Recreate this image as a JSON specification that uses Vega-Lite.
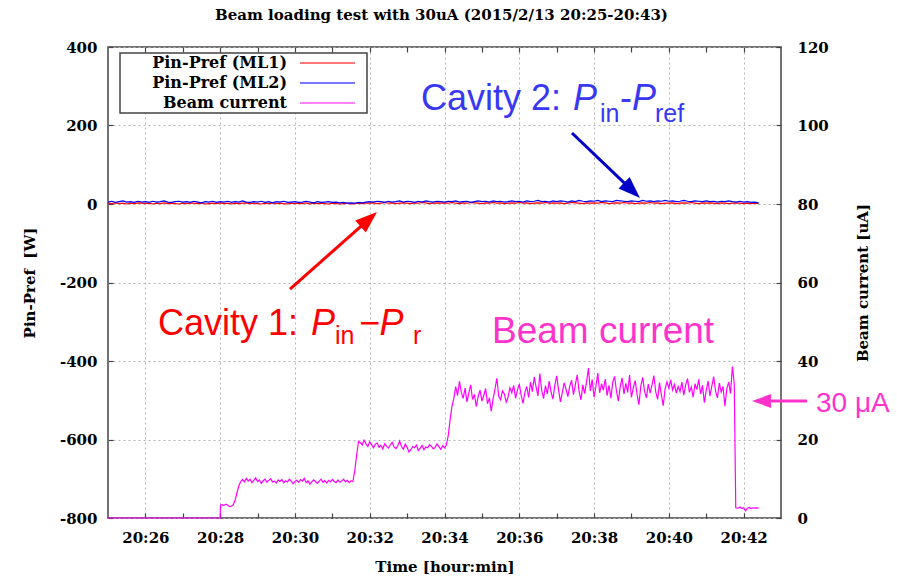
{
"$schema":"https://vega.github.io/schema/vega-lite/v6.json",
"width":673,"height":471,
"autosize":{"type":"none"},
"padding":{"left":108,"top":47,"right":116,"bottom":58},
"background":"white",
"title":{"text":"Beam loading test with 30uA (2015/2/13 20:25-20:43)","font":"DejaVu Serif","fontSize":15,"fontWeight":"bold","color":"#000","offset":17,"dx":-3},
"datasets":{
"ml":[
{"t":25.0,"ml1":2,"ml2":5},{"t":25.1,"ml1":1,"ml2":7},{"t":25.2,"ml1":3,"ml2":4},{"t":25.3,"ml1":1,"ml2":6},{"t":25.4,"ml1":2,"ml2":8},{"t":25.5,"ml1":0,"ml2":5},{"t":25.6,"ml1":2,"ml2":6},{"t":25.7,"ml1":1,"ml2":4},{"t":25.8,"ml1":3,"ml2":7},{"t":25.9,"ml1":2,"ml2":5},
{"t":26.0,"ml1":1,"ml2":6},{"t":26.1,"ml1":2,"ml2":4},{"t":26.2,"ml1":0,"ml2":7},{"t":26.3,"ml1":2,"ml2":5},{"t":26.4,"ml1":1,"ml2":6},{"t":26.5,"ml1":3,"ml2":8},{"t":26.6,"ml1":1,"ml2":5},{"t":26.7,"ml1":2,"ml2":4},{"t":26.8,"ml1":1,"ml2":6},{"t":26.9,"ml1":0,"ml2":7},
{"t":27.0,"ml1":2,"ml2":5},{"t":27.1,"ml1":1,"ml2":6},{"t":27.2,"ml1":3,"ml2":4},{"t":27.3,"ml1":2,"ml2":7},{"t":27.4,"ml1":1,"ml2":5},{"t":27.5,"ml1":2,"ml2":3},{"t":27.6,"ml1":0,"ml2":6},{"t":27.7,"ml1":1,"ml2":5},{"t":27.8,"ml1":2,"ml2":7},{"t":27.9,"ml1":1,"ml2":4},
{"t":28.0,"ml1":3,"ml2":6},{"t":28.1,"ml1":1,"ml2":5},{"t":28.2,"ml1":2,"ml2":7},{"t":28.3,"ml1":0,"ml2":4},{"t":28.4,"ml1":2,"ml2":6},{"t":28.5,"ml1":1,"ml2":5},{"t":28.6,"ml1":2,"ml2":8},{"t":28.7,"ml1":3,"ml2":5},{"t":28.8,"ml1":1,"ml2":4},{"t":28.9,"ml1":2,"ml2":6},
{"t":29.0,"ml1":1,"ml2":5},{"t":29.1,"ml1":0,"ml2":7},{"t":29.2,"ml1":2,"ml2":4},{"t":29.3,"ml1":1,"ml2":6},{"t":29.4,"ml1":3,"ml2":3},{"t":29.5,"ml1":1,"ml2":6},{"t":29.6,"ml1":2,"ml2":5},{"t":29.7,"ml1":1,"ml2":7},{"t":29.8,"ml1":0,"ml2":4},{"t":29.9,"ml1":2,"ml2":5},
{"t":30.0,"ml1":1,"ml2":6},{"t":30.1,"ml1":2,"ml2":4},{"t":30.2,"ml1":1,"ml2":5},{"t":30.3,"ml1":3,"ml2":7},{"t":30.4,"ml1":0,"ml2":5},{"t":30.5,"ml1":2,"ml2":3},{"t":30.6,"ml1":1,"ml2":6},{"t":30.7,"ml1":2,"ml2":4},{"t":30.8,"ml1":1,"ml2":5},{"t":30.9,"ml1":0,"ml2":6},
{"t":31.0,"ml1":2,"ml2":4},{"t":31.1,"ml1":1,"ml2":5},{"t":31.2,"ml1":0,"ml2":3},{"t":31.3,"ml1":1,"ml2":4},{"t":31.4,"ml1":2,"ml2":2},{"t":31.5,"ml1":0,"ml2":3},{"t":31.6,"ml1":1,"ml2":2},{"t":31.7,"ml1":2,"ml2":4},{"t":31.8,"ml1":1,"ml2":3},{"t":31.9,"ml1":3,"ml2":5},
{"t":32.0,"ml1":2,"ml2":6},{"t":32.1,"ml1":3,"ml2":5},{"t":32.2,"ml1":1,"ml2":7},{"t":32.3,"ml1":2,"ml2":6},{"t":32.4,"ml1":4,"ml2":4},{"t":32.5,"ml1":2,"ml2":7},{"t":32.6,"ml1":3,"ml2":5},{"t":32.7,"ml1":1,"ml2":6},{"t":32.8,"ml1":2,"ml2":8},{"t":32.9,"ml1":3,"ml2":5},
{"t":33.0,"ml1":2,"ml2":7},{"t":33.1,"ml1":1,"ml2":6},{"t":33.2,"ml1":3,"ml2":4},{"t":33.3,"ml1":2,"ml2":7},{"t":33.4,"ml1":4,"ml2":5},{"t":33.5,"ml1":3,"ml2":8},{"t":33.6,"ml1":1,"ml2":6},{"t":33.7,"ml1":2,"ml2":5},{"t":33.8,"ml1":3,"ml2":7},{"t":33.9,"ml1":2,"ml2":6},
{"t":34.0,"ml1":3,"ml2":5},{"t":34.1,"ml1":2,"ml2":7},{"t":34.2,"ml1":4,"ml2":6},{"t":34.3,"ml1":2,"ml2":8},{"t":34.4,"ml1":1,"ml2":5},{"t":34.5,"ml1":3,"ml2":6},{"t":34.6,"ml1":2,"ml2":7},{"t":34.7,"ml1":4,"ml2":4},{"t":34.8,"ml1":3,"ml2":6},{"t":34.9,"ml1":2,"ml2":8},
{"t":35.0,"ml1":1,"ml2":6},{"t":35.1,"ml1":3,"ml2":7},{"t":35.2,"ml1":2,"ml2":5},{"t":35.3,"ml1":4,"ml2":8},{"t":35.4,"ml1":2,"ml2":6},{"t":35.5,"ml1":3,"ml2":7},{"t":35.6,"ml1":1,"ml2":5},{"t":35.7,"ml1":2,"ml2":6},{"t":35.8,"ml1":3,"ml2":8},{"t":35.9,"ml1":2,"ml2":6},
{"t":36.0,"ml1":4,"ml2":7},{"t":36.1,"ml1":2,"ml2":5},{"t":36.2,"ml1":3,"ml2":8},{"t":36.3,"ml1":1,"ml2":6},{"t":36.4,"ml1":2,"ml2":7},{"t":36.5,"ml1":3,"ml2":9},{"t":36.6,"ml1":2,"ml2":6},{"t":36.7,"ml1":4,"ml2":7},{"t":36.8,"ml1":2,"ml2":5},{"t":36.9,"ml1":3,"ml2":8},
{"t":37.0,"ml1":2,"ml2":6},{"t":37.1,"ml1":3,"ml2":8},{"t":37.2,"ml1":1,"ml2":7},{"t":37.3,"ml1":2,"ml2":5},{"t":37.4,"ml1":4,"ml2":8},{"t":37.5,"ml1":3,"ml2":6},{"t":37.6,"ml1":2,"ml2":9},{"t":37.7,"ml1":1,"ml2":7},{"t":37.8,"ml1":3,"ml2":6},{"t":37.9,"ml1":2,"ml2":8},
{"t":38.0,"ml1":3,"ml2":7},{"t":38.1,"ml1":2,"ml2":9},{"t":38.2,"ml1":4,"ml2":6},{"t":38.3,"ml1":3,"ml2":8},{"t":38.4,"ml1":1,"ml2":7},{"t":38.5,"ml1":2,"ml2":6},{"t":38.6,"ml1":3,"ml2":9},{"t":38.7,"ml1":2,"ml2":8},{"t":38.8,"ml1":4,"ml2":7},{"t":38.9,"ml1":2,"ml2":6},
{"t":39.0,"ml1":3,"ml2":8},{"t":39.1,"ml1":1,"ml2":7},{"t":39.2,"ml1":2,"ml2":6},{"t":39.3,"ml1":3,"ml2":9},{"t":39.4,"ml1":2,"ml2":7},{"t":39.5,"ml1":4,"ml2":8},{"t":39.6,"ml1":2,"ml2":6},{"t":39.7,"ml1":3,"ml2":8},{"t":39.8,"ml1":1,"ml2":7},{"t":39.9,"ml1":2,"ml2":9},
{"t":40.0,"ml1":2,"ml2":7},{"t":40.1,"ml1":3,"ml2":8},{"t":40.2,"ml1":1,"ml2":6},{"t":40.3,"ml1":2,"ml2":7},{"t":40.4,"ml1":3,"ml2":9},{"t":40.5,"ml1":2,"ml2":7},{"t":40.6,"ml1":4,"ml2":6},{"t":40.7,"ml1":2,"ml2":8},{"t":40.8,"ml1":1,"ml2":7},{"t":40.9,"ml1":3,"ml2":6},
{"t":41.0,"ml1":2,"ml2":8},{"t":41.1,"ml1":3,"ml2":6},{"t":41.2,"ml1":2,"ml2":7},{"t":41.3,"ml1":1,"ml2":5},{"t":41.4,"ml1":3,"ml2":7},{"t":41.5,"ml1":2,"ml2":6},{"t":41.6,"ml1":1,"ml2":8},{"t":41.7,"ml1":2,"ml2":6},{"t":41.8,"ml1":3,"ml2":5},{"t":41.9,"ml1":2,"ml2":7},
{"t":42.0,"ml1":1,"ml2":5},{"t":42.1,"ml1":2,"ml2":6},{"t":42.2,"ml1":1,"ml2":4},{"t":42.3,"ml1":2,"ml2":5},{"t":42.4,"ml1":1,"ml2":3}
],
"beam":[
{"t":25.0,"beam":0},{"t":28.0,"beam":0},{"t":28.01,"beam":3.3},{"t":28.05,"beam":3.4},{"t":28.1,"beam":3.2},{"t":28.15,"beam":3.5},{"t":28.2,"beam":3.3},{"t":28.25,"beam":2.9},{"t":28.3,"beam":3.0},{"t":28.35,"beam":3.4},{"t":28.4,"beam":4.5},{"t":28.45,"beam":6.5},{"t":28.5,"beam":8.2},{"t":28.55,"beam":9.3},
{"t":28.6,"beam":9.8},{"t":28.65,"beam":9.2},{"t":28.7,"beam":10.1},{"t":28.75,"beam":9.4},{"t":28.8,"beam":9.9},{"t":28.85,"beam":9.0},{"t":28.9,"beam":9.6},{"t":28.95,"beam":10.2},{"t":29.0,"beam":9.3},{"t":29.05,"beam":9.7},
{"t":29.1,"beam":8.8},{"t":29.15,"beam":9.5},{"t":29.2,"beam":9.9},{"t":29.25,"beam":9.1},{"t":29.3,"beam":9.6},{"t":29.35,"beam":10.0},{"t":29.4,"beam":9.2},{"t":29.45,"beam":9.4},{"t":29.5,"beam":8.9},{"t":29.55,"beam":9.7},
{"t":29.6,"beam":9.3},{"t":29.65,"beam":9.8},{"t":29.7,"beam":9.0},{"t":29.75,"beam":9.5},{"t":29.8,"beam":9.2},{"t":29.85,"beam":9.9},{"t":29.9,"beam":9.4},{"t":29.95,"beam":8.7},{"t":30.0,"beam":9.3},{"t":30.05,"beam":9.6},
{"t":30.1,"beam":9.1},{"t":30.15,"beam":9.8},{"t":30.2,"beam":9.4},{"t":30.25,"beam":10.1},{"t":30.3,"beam":9.0},{"t":30.35,"beam":9.5},{"t":30.4,"beam":8.6},{"t":30.45,"beam":9.2},{"t":30.5,"beam":9.7},{"t":30.55,"beam":9.3},
{"t":30.6,"beam":8.8},{"t":30.65,"beam":9.4},{"t":30.7,"beam":9.9},{"t":30.75,"beam":9.1},{"t":30.8,"beam":9.5},{"t":30.85,"beam":8.9},{"t":30.9,"beam":9.6},{"t":30.95,"beam":9.2},{"t":31.0,"beam":9.8},{"t":31.05,"beam":9.3},
{"t":31.1,"beam":9.0},{"t":31.15,"beam":9.7},{"t":31.2,"beam":9.1},{"t":31.25,"beam":9.4},{"t":31.3,"beam":9.9},{"t":31.35,"beam":9.2},{"t":31.4,"beam":9.6},{"t":31.45,"beam":9.0},{"t":31.5,"beam":9.5},{"t":31.55,"beam":9.3},
{"t":31.6,"beam":12},{"t":31.65,"beam":16},{"t":31.7,"beam":19.5},
{"t":31.75,"beam":19.2},{"t":31.8,"beam":18.6},{"t":31.85,"beam":19.8},{"t":31.9,"beam":18.9},{"t":31.95,"beam":18.2},{"t":32.0,"beam":19.4},{"t":32.05,"beam":18.7},{"t":32.1,"beam":17.9},{"t":32.15,"beam":18.8},{"t":32.2,"beam":19.1},
{"t":32.25,"beam":18.0},{"t":32.3,"beam":18.5},{"t":32.35,"beam":17.6},{"t":32.4,"beam":18.9},{"t":32.45,"beam":18.3},{"t":32.5,"beam":17.8},{"t":32.55,"beam":18.6},{"t":32.6,"beam":19.3},{"t":32.65,"beam":18.1},{"t":32.7,"beam":17.7},
{"t":32.75,"beam":18.4},{"t":32.8,"beam":19.6},{"t":32.85,"beam":18.2},{"t":32.9,"beam":17.5},{"t":32.95,"beam":18.8},{"t":33.0,"beam":18.0},{"t":33.05,"beam":16.8},{"t":33.1,"beam":17.4},{"t":33.15,"beam":18.2},{"t":33.2,"beam":17.9},
{"t":33.25,"beam":18.6},{"t":33.3,"beam":17.2},{"t":33.35,"beam":17.8},{"t":33.4,"beam":18.5},{"t":33.45,"beam":17.4},{"t":33.5,"beam":18.1},{"t":33.55,"beam":17.9},{"t":33.6,"beam":18.7},{"t":33.65,"beam":18.3},{"t":33.7,"beam":17.6},
{"t":33.75,"beam":18.0},{"t":33.8,"beam":18.9},{"t":33.85,"beam":18.2},{"t":33.9,"beam":17.5},{"t":33.95,"beam":18.4},{"t":34.0,"beam":17.9},{"t":34.05,"beam":18.6},
{"t":34.1,"beam":21},{"t":34.15,"beam":25},{"t":34.2,"beam":28.5},{"t":34.25,"beam":30.5},
{"t":34.3,"beam":33.5},{"t":34.35,"beam":31.2},{"t":34.4,"beam":34.8},{"t":34.45,"beam":32.0},{"t":34.5,"beam":30.5},{"t":34.55,"beam":33.1},{"t":34.6,"beam":29.6},{"t":34.65,"beam":31.8},{"t":34.7,"beam":33.9},{"t":34.75,"beam":30.2},
{"t":34.8,"beam":31.5},{"t":34.85,"beam":28.4},{"t":34.9,"beam":30.9},{"t":34.95,"beam":32.6},{"t":35.0,"beam":29.8},{"t":35.05,"beam":31.2},{"t":35.1,"beam":33.0},{"t":35.15,"beam":29.1},{"t":35.2,"beam":30.6},{"t":35.25,"beam":27.2},
{"t":35.3,"beam":30.4},{"t":35.35,"beam":32.8},{"t":35.4,"beam":35.6},{"t":35.45,"beam":31.0},{"t":35.5,"beam":30.1},{"t":35.55,"beam":32.4},{"t":35.6,"beam":31.6},{"t":35.65,"beam":29.5},{"t":35.7,"beam":30.8},{"t":35.75,"beam":33.2},
{"t":35.8,"beam":31.9},{"t":35.85,"beam":33.8},{"t":35.9,"beam":30.5},{"t":35.95,"beam":32.6},{"t":36.0,"beam":34.1},{"t":36.05,"beam":31.3},{"t":36.1,"beam":29.2},{"t":36.15,"beam":32.0},{"t":36.2,"beam":33.5},{"t":36.25,"beam":30.7},
{"t":36.3,"beam":34.6},{"t":36.35,"beam":32.2},{"t":36.4,"beam":35.9},{"t":36.45,"beam":33.4},{"t":36.5,"beam":31.1},{"t":36.55,"beam":36.8},{"t":36.6,"beam":32.5},{"t":36.65,"beam":30.4},{"t":36.7,"beam":33.7},{"t":36.75,"beam":31.6},
{"t":36.8,"beam":34.9},{"t":36.85,"beam":32.1},{"t":36.9,"beam":30.3},{"t":36.95,"beam":33.8},{"t":37.0,"beam":36.2},{"t":37.05,"beam":32.7},{"t":37.1,"beam":29.6},{"t":37.15,"beam":31.9},{"t":37.2,"beam":34.4},{"t":37.25,"beam":32.8},
{"t":37.3,"beam":30.9},{"t":37.35,"beam":33.6},{"t":37.4,"beam":35.1},{"t":37.45,"beam":31.4},{"t":37.5,"beam":34.0},{"t":37.55,"beam":36.5},{"t":37.6,"beam":32.2},{"t":37.65,"beam":30.1},{"t":37.7,"beam":33.9},{"t":37.75,"beam":31.7},
{"t":37.8,"beam":34.8},{"t":37.85,"beam":38.2},{"t":37.9,"beam":32.4},{"t":37.95,"beam":35.3},{"t":38.0,"beam":30.8},{"t":38.05,"beam":33.5},{"t":38.1,"beam":36.9},{"t":38.15,"beam":31.9},{"t":38.2,"beam":34.2},{"t":38.25,"beam":32.6},
{"t":38.3,"beam":35.4},{"t":38.35,"beam":31.2},{"t":38.4,"beam":33.8},{"t":38.45,"beam":30.5},{"t":38.5,"beam":34.6},{"t":38.55,"beam":36.1},{"t":38.6,"beam":32.3},{"t":38.65,"beam":29.8},{"t":38.7,"beam":33.4},{"t":38.75,"beam":35.7},
{"t":38.8,"beam":31.6},{"t":38.85,"beam":34.3},{"t":38.9,"beam":32.0},{"t":38.95,"beam":36.4},{"t":39.0,"beam":30.7},{"t":39.05,"beam":33.2},{"t":39.1,"beam":35.0},{"t":39.15,"beam":31.5},{"t":39.2,"beam":28.9},{"t":39.25,"beam":33.6},
{"t":39.3,"beam":35.8},{"t":39.35,"beam":32.4},{"t":39.4,"beam":30.6},{"t":39.45,"beam":34.1},{"t":39.5,"beam":31.8},{"t":39.55,"beam":33.9},{"t":39.6,"beam":36.3},{"t":39.65,"beam":32.1},{"t":39.7,"beam":30.2},{"t":39.75,"beam":34.5},
{"t":39.8,"beam":31.4},{"t":39.85,"beam":28.6},{"t":39.9,"beam":32.9},{"t":39.95,"beam":34.7},{"t":40.0,"beam":33.1},{"t":40.05,"beam":35.2},{"t":40.1,"beam":32.6},{"t":40.15,"beam":34.0},{"t":40.2,"beam":31.8},{"t":40.25,"beam":33.5},
{"t":40.3,"beam":32.2},{"t":40.35,"beam":34.6},{"t":40.4,"beam":31.3},{"t":40.45,"beam":33.9},{"t":40.5,"beam":35.5},{"t":40.55,"beam":32.0},{"t":40.6,"beam":33.4},{"t":40.65,"beam":30.8},{"t":40.7,"beam":34.2},{"t":40.75,"beam":32.7},
{"t":40.8,"beam":35.3},{"t":40.85,"beam":31.6},{"t":40.9,"beam":33.8},{"t":40.95,"beam":29.4},{"t":41.0,"beam":32.5},{"t":41.05,"beam":34.9},{"t":41.1,"beam":31.1},{"t":41.15,"beam":33.6},{"t":41.2,"beam":36.0},{"t":41.25,"beam":32.3},
{"t":41.3,"beam":30.6},{"t":41.35,"beam":34.4},{"t":41.4,"beam":32.1},{"t":41.45,"beam":33.5},{"t":41.5,"beam":28.5},{"t":41.55,"beam":32.9},{"t":41.6,"beam":34.6},{"t":41.65,"beam":31.7},{"t":41.7,"beam":38.6},{"t":41.75,"beam":34.2},
{"t":41.79,"beam":2.6},{"t":41.85,"beam":2.5},{"t":41.9,"beam":2.8},{"t":41.95,"beam":2.4},{"t":42.0,"beam":2.6},{"t":42.05,"beam":1.8},{"t":42.1,"beam":2.5},{"t":42.15,"beam":2.7},{"t":42.2,"beam":2.4},{"t":42.25,"beam":2.6},{"t":42.3,"beam":2.5},{"t":42.35,"beam":2.6},{"t":42.4,"beam":2.5}
]
},
"layer":[
 {"data":{"name":"ml"},
  "transform":[{"fold":["ml1","ml2"],"as":["series","v"]}],
  "mark":{"type":"line","strokeWidth":1.2},
  "encoding":{
   "x":{"field":"t","type":"quantitative","scale":{"domain":[25,43],"nice":false,"zero":false},
        "axis":{"orient":"bottom","values":[26,28,30,32,34,36,38,40,42],
                "labelExpr":"'20:' + datum.value",
                "grid":true,"labelPadding":17,"labelFlush":false,
                "title":"Time [hour:min]","titlePadding":14}},
   "y":{"field":"v","type":"quantitative","scale":{"domain":[-800,400],"nice":false,"zero":false},
        "axis":{"orient":"left","values":[-800,-600,-400,-200,0,200,400],"grid":true,"labelPadding":16,
                "labelExpr":"'' + datum.value",
                "title":"Pin-Pref \u00a0[W]","titlePadding":22}},
   "color":{"field":"series","type":"nominal",
            "scale":{"domain":["ml1","ml2"],"range":["#ff0000","#0000ff"]},
            "legend":null}
  }},
 {"data":{"name":"beam"},
  "mark":{"type":"line","strokeWidth":1.2,"color":"#ff00ff"},
  "encoding":{
   "x":{"field":"t","type":"quantitative","scale":{"domain":[25,43],"nice":false,"zero":false},
        "axis":{"orient":"top","values":[26,27,28,29,30,31,32,33,34,35,36,37,38,39,40,41,42],"labels":false,"title":null,"grid":false}},
   "y":{"field":"beam","type":"quantitative","scale":{"domain":[0,120],"nice":false,"zero":false},
        "axis":{"orient":"right","values":[0,20,40,60,80,100,120],"grid":false,"labelPadding":21,
                "title":"Beam current [uA]","titleAngle":-90,"titlePadding":42}}
  }},
 {"data":{"values":[{}]},
  "mark":{"type":"rect","fill":"white","stroke":"#444","strokeWidth":1.5},
  "encoding":{"x":{"datum":25.321,"type":"quantitative","axis":null},"x2":{"datum":31.927},
              "y":{"datum":384.7,"type":"quantitative","scale":{"domain":[-800,400],"nice":false,"zero":false},"axis":null},"y2":{"datum":231.8}}},
 {"data":{"values":[{"label":"Pin-Pref (ML1)"}]},
  "mark":{"type":"text","align":"right","baseline":"middle","font":"DejaVu Serif","fontWeight":"bold","fontSize":16,"color":"#000"},
  "encoding":{"x":{"datum":29.787,"type":"quantitative","axis":null},"y":{"datum":359.2,"type":"quantitative","scale":{"domain":[-800,400],"nice":false,"zero":false},"axis":null},"text":{"field":"label"}}},
 {"data":{"values":[{"label":"Pin-Pref (ML2)"}]},
  "mark":{"type":"text","align":"right","baseline":"middle","font":"DejaVu Serif","fontWeight":"bold","fontSize":16,"color":"#000"},
  "encoding":{"x":{"datum":29.787,"type":"quantitative","axis":null},"y":{"datum":308.3,"type":"quantitative","scale":{"domain":[-800,400],"nice":false,"zero":false},"axis":null},"text":{"field":"label"}}},
 {"data":{"values":[{"label":"Beam current"}]},
  "mark":{"type":"text","align":"right","baseline":"middle","font":"DejaVu Serif","fontWeight":"bold","fontSize":16,"color":"#000"},
  "encoding":{"x":{"datum":29.787,"type":"quantitative","axis":null},"y":{"datum":257.3,"type":"quantitative","scale":{"domain":[-800,400],"nice":false,"zero":false},"axis":null},"text":{"field":"label"}}},
 {"data":{"values":[{}]},
  "mark":{"type":"rule","color":"#ff4a4a","strokeWidth":1.6},
  "encoding":{"x":{"datum":30.135,"type":"quantitative","axis":null},"x2":{"datum":31.606},
              "y":{"datum":359.2,"type":"quantitative","scale":{"domain":[-800,400],"nice":false,"zero":false},"axis":null},"y2":{"datum":359.2}}},
 {"data":{"values":[{}]},
  "mark":{"type":"rule","color":"#4a4aff","strokeWidth":1.6},
  "encoding":{"x":{"datum":30.135,"type":"quantitative","axis":null},"x2":{"datum":31.606},
              "y":{"datum":308.3,"type":"quantitative","scale":{"domain":[-800,400],"nice":false,"zero":false},"axis":null},"y2":{"datum":308.3}}},
 {"data":{"values":[{}]},
  "mark":{"type":"rule","color":"#ff5aff","strokeWidth":1.6},
  "encoding":{"x":{"datum":30.135,"type":"quantitative","axis":null},"x2":{"datum":31.606},
              "y":{"datum":257.3,"type":"quantitative","scale":{"domain":[-800,400],"nice":false,"zero":false},"axis":null},"y2":{"datum":257.3}}},
 {"data":{"values":[{"label":"Cavity 2: "}]},
  "mark":{"type":"text","align":"left","baseline":"alphabetic","font":"Liberation Sans","fontSize":36,"color":"#3838f2"},
  "encoding":{"x":{"datum":33.37,"type":"quantitative","axis":null},"y":{"datum":239.5,"type":"quantitative","scale":{"domain":[-800,400],"nice":false,"zero":false},"axis":null},"text":{"field":"label"}}},
 {"data":{"values":[{"label":"P"}]},
  "mark":{"type":"text","align":"left","baseline":"alphabetic","font":"Liberation Sans","fontStyle":"italic","fontSize":36,"color":"#3838f2"},
  "encoding":{"x":{"datum":37.437,"type":"quantitative","axis":null},"y":{"datum":239.5,"type":"quantitative","scale":{"domain":[-800,400],"nice":false,"zero":false},"axis":null},"text":{"field":"label"}}},
 {"data":{"values":[{"label":"in"}]},
  "mark":{"type":"text","align":"left","baseline":"alphabetic","font":"Liberation Sans","fontSize":25,"color":"#3838f2"},
  "encoding":{"x":{"datum":38.159,"type":"quantitative","axis":null},"y":{"datum":208.9,"type":"quantitative","scale":{"domain":[-800,400],"nice":false,"zero":false},"axis":null},"text":{"field":"label"}}},
 {"data":{"values":[{"label":"-"}]},
  "mark":{"type":"text","align":"left","baseline":"alphabetic","font":"Liberation Sans","fontSize":36,"color":"#3838f2"},
  "encoding":{"x":{"datum":38.694,"type":"quantitative","axis":null},"y":{"datum":239.5,"type":"quantitative","scale":{"domain":[-800,400],"nice":false,"zero":false},"axis":null},"text":{"field":"label"}}},
 {"data":{"values":[{"label":"P"}]},
  "mark":{"type":"text","align":"left","baseline":"alphabetic","font":"Liberation Sans","fontStyle":"italic","fontSize":36,"color":"#3838f2"},
  "encoding":{"x":{"datum":39.015,"type":"quantitative","axis":null},"y":{"datum":239.5,"type":"quantitative","scale":{"domain":[-800,400],"nice":false,"zero":false},"axis":null},"text":{"field":"label"}}},
 {"data":{"values":[{"label":"ref"}]},
  "mark":{"type":"text","align":"left","baseline":"alphabetic","font":"Liberation Sans","fontSize":25,"color":"#3838f2"},
  "encoding":{"x":{"datum":39.63,"type":"quantitative","axis":null},"y":{"datum":208.9,"type":"quantitative","scale":{"domain":[-800,400],"nice":false,"zero":false},"axis":null},"text":{"field":"label"}}},
 {"data":{"values":[{"label":"Cavity 1: "}]},
  "mark":{"type":"text","align":"left","baseline":"alphabetic","font":"Liberation Sans","fontSize":36,"color":"#ff0000"},
  "encoding":{"x":{"datum":26.337,"type":"quantitative","axis":null},"y":{"datum":-333.8,"type":"quantitative","scale":{"domain":[-800,400],"nice":false,"zero":false},"axis":null},"text":{"field":"label"}}},
 {"data":{"values":[{"label":"P"}]},
  "mark":{"type":"text","align":"left","baseline":"alphabetic","font":"Liberation Sans","fontStyle":"italic","fontSize":36,"color":"#ff0000"},
  "encoding":{"x":{"datum":30.429,"type":"quantitative","axis":null},"y":{"datum":-333.8,"type":"quantitative","scale":{"domain":[-800,400],"nice":false,"zero":false},"axis":null},"text":{"field":"label"}}},
 {"data":{"values":[{"label":"in"}]},
  "mark":{"type":"text","align":"left","baseline":"alphabetic","font":"Liberation Sans","fontSize":25,"color":"#ff0000"},
  "encoding":{"x":{"datum":31.071,"type":"quantitative","axis":null},"y":{"datum":-356.7,"type":"quantitative","scale":{"domain":[-800,400],"nice":false,"zero":false},"axis":null},"text":{"field":"label"}}},
 {"data":{"values":[{"label":"\u2212"}]},
  "mark":{"type":"text","align":"left","baseline":"alphabetic","font":"Liberation Sans","fontSize":36,"color":"#ff0000"},
  "encoding":{"x":{"datum":31.72,"type":"quantitative","axis":null},"y":{"datum":-333.8,"type":"quantitative","scale":{"domain":[-800,400],"nice":false,"zero":false},"axis":null},"text":{"field":"label"}}},
 {"data":{"values":[{"label":"P"}]},
  "mark":{"type":"text","align":"left","baseline":"alphabetic","font":"Liberation Sans","fontStyle":"italic","fontSize":36,"color":"#ff0000"},
  "encoding":{"x":{"datum":32.26,"type":"quantitative","axis":null},"y":{"datum":-333.8,"type":"quantitative","scale":{"domain":[-800,400],"nice":false,"zero":false},"axis":null},"text":{"field":"label"}}},
 {"data":{"values":[{"label":"r"}]},
  "mark":{"type":"text","align":"left","baseline":"alphabetic","font":"Liberation Sans","fontSize":25,"color":"#ff0000"},
  "encoding":{"x":{"datum":33.157,"type":"quantitative","axis":null},"y":{"datum":-356.7,"type":"quantitative","scale":{"domain":[-800,400],"nice":false,"zero":false},"axis":null},"text":{"field":"label"}}},
 {"data":{"values":[{"label":"Beam current"}]},
  "mark":{"type":"text","align":"left","baseline":"alphabetic","font":"Liberation Sans","fontSize":37,"color":"#ff33cc"},
  "encoding":{"x":{"datum":35.27,"type":"quantitative",
                   "axis":{"orient":"bottom","values":[27,29,31,33,35,37,39,41],"labels":false,"grid":false,"title":null}},
              "y":{"datum":-354.1,"type":"quantitative","scale":{"domain":[-800,400],"nice":false,"zero":false},"axis":null},"text":{"field":"label"}}},
 {"data":{"values":[{"label":"30 \u03bcA"}]},
  "mark":{"type":"text","align":"left","baseline":"alphabetic","font":"Liberation Sans","fontSize":28,"color":"#ff33cc"},
  "encoding":{"x":{"datum":43.936,"type":"quantitative","axis":null},"y":{"datum":-530,"type":"quantitative","scale":{"domain":[-800,400],"nice":false,"zero":false},"axis":null},"text":{"field":"label"}}},
 {"data":{"values":[{}]},
  "mark":{"type":"rule","color":"#0000c8","strokeWidth":3},
  "encoding":{"x":{"datum":37.41,"type":"quantitative","axis":null},"y":{"datum":180.9,"type":"quantitative","scale":{"domain":[-800,400],"nice":false,"zero":false},"axis":null},"x2":{"datum":39.1},"y2":{"datum":27}}},
 {"data":{"values":[{}]},
  "mark":{"type":"point","shape":"M0,0L-0.8,2.2L0.8,2.2Z","filled":true,"size":400,"angle":133.7,"color":"#0000c8","opacity":1,"strokeWidth":0},
  "encoding":{"x":{"datum":39.229,"type":"quantitative","axis":null},"y":{"datum":15.3,"type":"quantitative","scale":{"domain":[-800,400],"nice":false,"zero":false},"axis":null}}},
 {"data":{"values":[{}]},
  "mark":{"type":"rule","color":"#ff0000","strokeWidth":3},
  "encoding":{"x":{"datum":29.868,"type":"quantitative","axis":null},"y":{"datum":-216.6,"type":"quantitative","scale":{"domain":[-800,400],"nice":false,"zero":false},"axis":null},"x2":{"datum":32.05},"y2":{"datum":-33}}},
 {"data":{"values":[{}]},
  "mark":{"type":"point","shape":"M0,0L-0.8,2.2L0.8,2.2Z","filled":true,"size":400,"angle":48.5,"color":"#ff0000","opacity":1,"strokeWidth":0},
  "encoding":{"x":{"datum":32.195,"type":"quantitative","axis":null},"y":{"datum":-20.4,"type":"quantitative","scale":{"domain":[-800,400],"nice":false,"zero":false},"axis":null}}},
 {"data":{"values":[{}]},
  "mark":{"type":"rule","color":"#ff33cc","strokeWidth":3},
  "encoding":{"x":{"datum":43.696,"type":"quantitative","axis":null},"y":{"datum":-501.9,"type":"quantitative","scale":{"domain":[-800,400],"nice":false,"zero":false},"axis":null},"x2":{"datum":42.5},"y2":{"datum":-501.9}}},
 {"data":{"values":[{}]},
  "mark":{"type":"point","shape":"M0,0L-0.8,2.2L0.8,2.2Z","filled":true,"size":300,"angle":270,"color":"#ff33cc","opacity":1,"strokeWidth":0},
  "encoding":{"x":{"datum":42.224,"type":"quantitative","axis":null},"y":{"datum":-501.9,"type":"quantitative","scale":{"domain":[-800,400],"nice":false,"zero":false},"axis":null}}}
],
"resolve":{"scale":{"y":"independent"},"axis":{"x":"independent","y":"independent"}},
"config":{
 "view":{"stroke":"#444","strokeWidth":1.5},
 "axis":{"domain":false,"labelFont":"DejaVu Serif","labelFontWeight":"bold","labelFontSize":15,"labelColor":"#000",
         "titleFont":"DejaVu Serif","titleFontWeight":"bold","titleFontSize":15,"titleColor":"#000",
         "tickColor":"#444","tickWidth":1.2,"tickSize":-5,"gridColor":"#b4b4b4","gridDash":[2,3],"gridWidth":1}
}
}
